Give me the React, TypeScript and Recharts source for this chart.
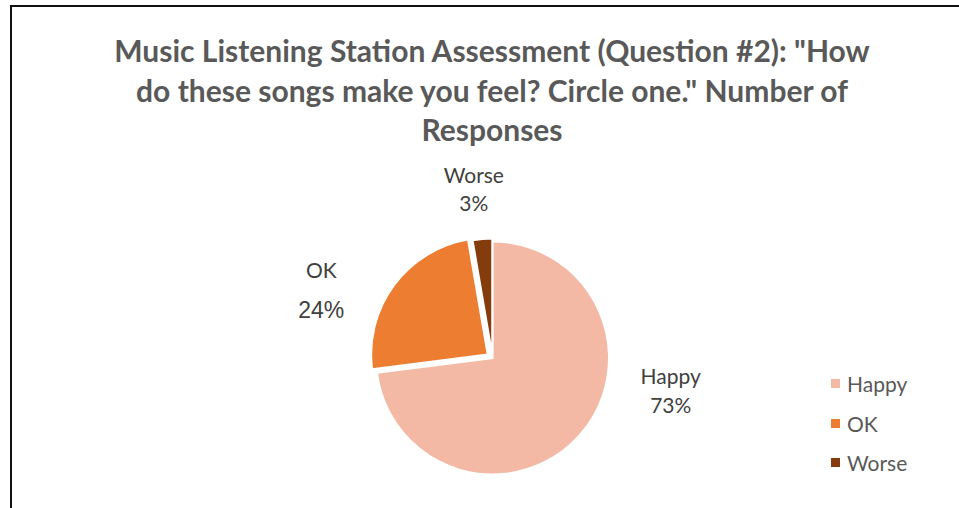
import React from 'react';
import { PieChart, Pie, Cell, Sector } from 'recharts';

const NAMES = ['Happy', 'OK', 'Worse'];
const RESPONSES = [27, 9, 1];
const COLORS = ['#F4B9A4', '#ED7D31', '#843C0C'];
const TITLE_LINES = [
  'Music Listening Station Assessment (Question #2): "How',
  'do these songs make you feel? Circle one." Number of',
  'Responses',
];

// style config: explosion (px) and label placement (in radius units)
const EXPLODE = [0, 6, 3];
const LABEL_LAYOUT = [
  { dx: 1.53, dy: 0.22, gap: 29, nameFont: 'Lato', nameSize: 21, pctFont: 'Lato', pctSize: 21 },
  { dx: -1.47, dy: -0.69, gap: 40, nameFont: 'Lato', nameSize: 21, pctFont: 'Liberation Sans, Arial', pctSize: 23 },
  { dx: -0.16, dy: -1.5, gap: 28, nameFont: 'Lato', nameSize: 21, pctFont: 'Lato', pctSize: 21 },
];

const data = NAMES.map((name, i) => ({ name, value: RESPONSES[i] }));

const RAD = Math.PI / 180;

const renderShape = (props: any) => {
  const name = props?.payload?.name ?? props.name;
  const i = NAMES.indexOf(name);
  const off = i >= 0 ? EXPLODE[i] : 0;
  const dx = off * Math.cos(-props.midAngle * RAD);
  const dy = off * Math.sin(-props.midAngle * RAD);
  return (
    <Sector
      cx={props.cx + dx}
      cy={props.cy + dy}
      innerRadius={props.innerRadius}
      outerRadius={props.outerRadius}
      startAngle={props.startAngle}
      endAngle={props.endAngle}
      fill={props.fill}
      stroke="#ffffff"
      strokeWidth={2}
    />
  );
};

const renderLabel = (props: any) => {
  const name = props?.payload?.name ?? props.name;
  const i = NAMES.indexOf(name);
  const L = LABEL_LAYOUT[i];
  const x = props.cx + L.dx * props.outerRadius;
  const y = props.cy + L.dy * props.outerRadius;
  return (
    <g key={`lbl-${i}`}>
      <text x={x} y={y} textAnchor="middle" fill="#404040" fontFamily={L.nameFont} fontSize={L.nameSize}>
        {name}
      </text>
      <text x={x} y={y + L.gap} textAnchor="middle" fill="#404040" fontFamily={L.pctFont} fontSize={L.pctSize}>
        {`${Math.round(props.percent * 100)}%`}
      </text>
    </g>
  );
};

export default function App() {
  return (
    <div style={{ position: 'absolute', left: 0, top: 0, width: 959, height: 508, background: '#fff', overflow: 'hidden' }}>
      <div
        style={{
          position: 'absolute',
          left: 10,
          top: 5,
          width: 1000,
          height: 600,
          borderLeft: '2px solid #111',
          borderTop: '2px solid #111',
        }}
      />
      <div
        style={{
          position: 'absolute',
          left: 92,
          top: 31,
          width: 800,
          textAlign: 'center',
          fontFamily: 'Lato',
          fontWeight: 700,
          fontSize: 30,
          lineHeight: '39.5px',
          color: '#595959',
          whiteSpace: 'nowrap',
        }}
      >
        {TITLE_LINES.map((t) => (
          <div key={t}>{t}</div>
        ))}
      </div>
      <div style={{ position: 'absolute', left: 0, top: 0 }}>
        <PieChart width={959} height={508} margin={{ top: 0, right: 0, bottom: 0, left: 0 }}>
          <Pie
            data={data}
            dataKey="value"
            nameKey="name"
            cx={492.5}
            cy={358}
            outerRadius={116.5}
            startAngle={90}
            endAngle={-270}
            stroke="#ffffff"
            strokeWidth={2}
            isAnimationActive={false}
            labelLine={false}
            label={renderLabel}
            shape={renderShape}
            activeShape={renderShape}
            inactiveShape={renderShape}
          >
            {data.map((d, i) => (
              <Cell key={d.name} fill={COLORS[i]} />
            ))}
          </Pie>
        </PieChart>
      </div>
      <div
        style={{
          position: 'absolute',
          left: 831,
          top: 364,
          width: 120,
          fontFamily: 'Lato',
          fontSize: 21,
          color: '#595959',
        }}
      >
        {NAMES.map((n, i) => (
          <div key={n} style={{ display: 'flex', alignItems: 'center', height: 39.5 }}>
            <div style={{ width: 9, height: 9, background: COLORS[i], marginRight: 7 }} />
            <span>{n}</span>
          </div>
        ))}
      </div>
    </div>
  );
}
